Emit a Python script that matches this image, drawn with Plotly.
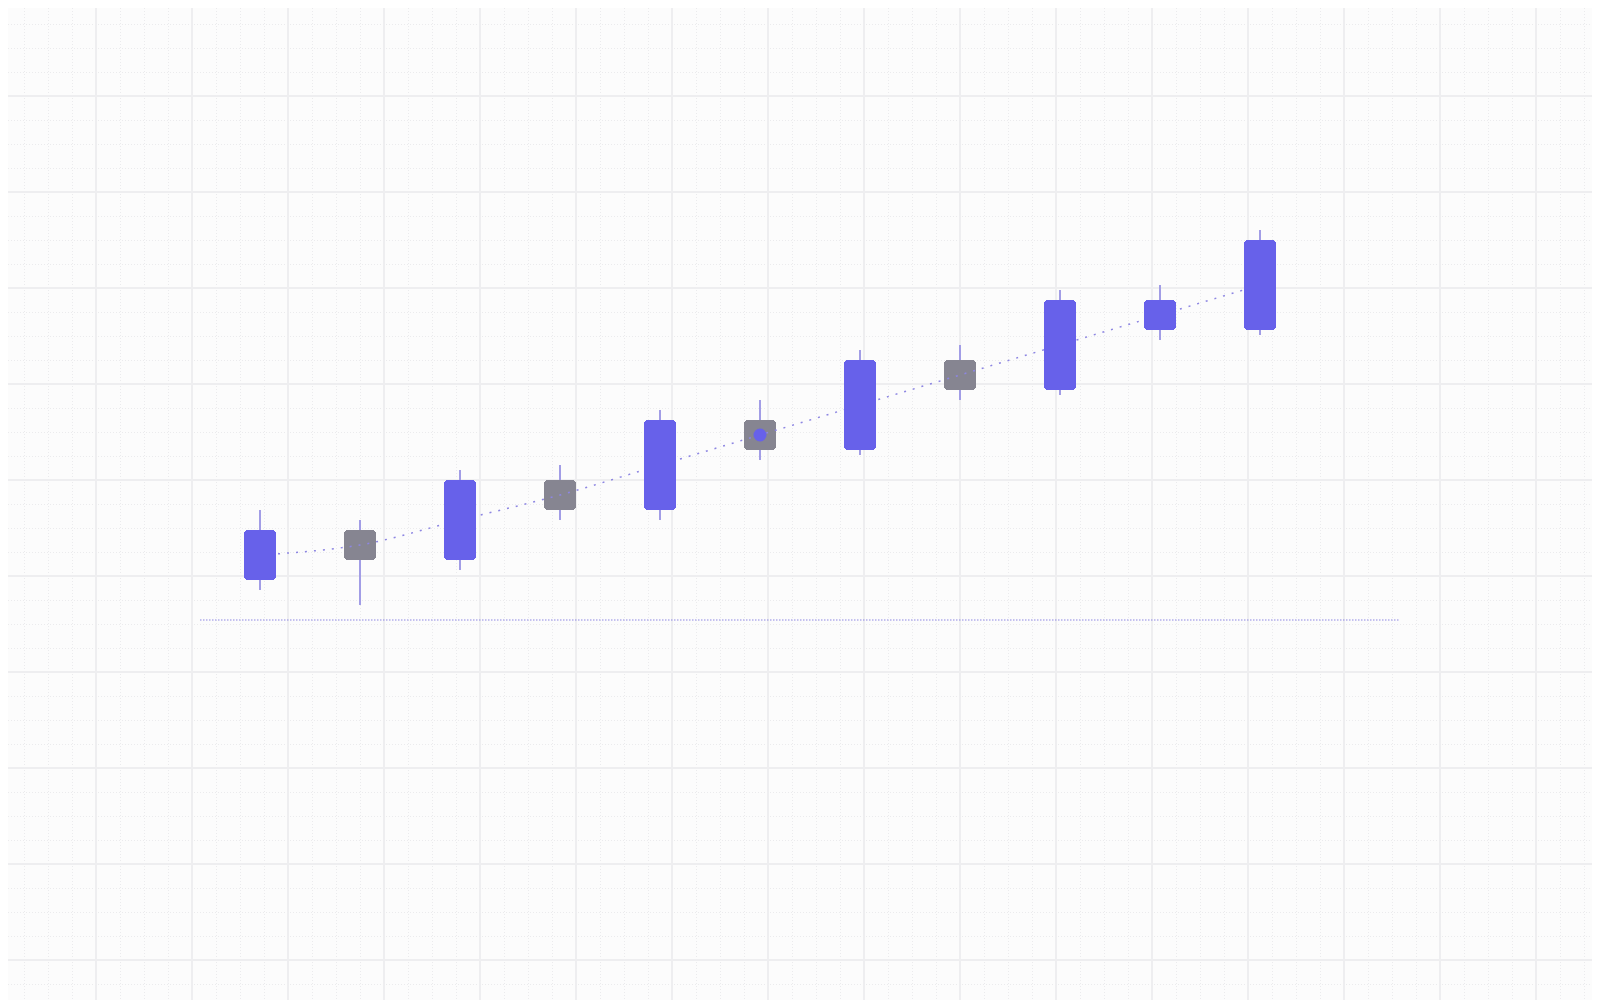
import plotly.graph_objects as go

# 蜡烛图数据（每根蜡烛：开盘、收盘、最高、最低）
candles = list(range(11))
opens = [42, 47, 44, 52, 49, 58, 55, 64, 61, 67, 67]
closes = [47, 44, 52, 49, 58, 55, 64, 61, 70, 70, 76]
highs = [49, 48, 53, 53.5, 59, 60, 65, 65.5, 71, 71.5, 77]
lows = [41, 39.5, 43, 48, 48, 54, 54.5, 60, 60.5, 66, 66.5]

# 趋势线、基准线和高亮点
trend = [44.5, 45.5, 48, 50.5, 53.5, 56.5, 59.5, 62.5, 65.5, 68.5, 71.5]
baseline_x = [-0.6, 11.4]
baseline_y = [38, 38]
highlight = 5

blue = '#6761ea'
gray = '#868591'
soft = '#8d86e2'

fig = go.Figure()

# 影线
fig.add_trace(go.Bar(x=candles,
                     y=[h - l for h, l in zip(highs, lows)],
                     base=lows,
                     width=0.02,
                     marker_color='#a29de6',
                     marker_line_width=0))


def add_bodies(idx, color, xaxis='x', yaxis='y'):
    """蜡烛实体"""
    fig.add_trace(go.Bar(x=[candles[i] for i in idx],
                         y=[abs(closes[i] - opens[i]) for i in idx],
                         base=[min(opens[i], closes[i]) for i in idx],
                         width=0.32,
                         marker_color=color,
                         marker_line_width=0,
                         marker_cornerradius=4,
                         xaxis=xaxis, yaxis=yaxis))


up = [i for i in candles if closes[i] > opens[i]]
down = [i for i in candles if closes[i] <= opens[i]]

add_bodies(down, gray)

# 趋势线（画在灰色实体上面、蓝色实体下面）
fig.add_trace(go.Scatter(x=candles, y=trend, mode='lines',
                         line=dict(color=soft, width=1.5, dash='2px,7px', shape='spline')))

# 上层坐标系：蓝色实体、基准线、高亮点
add_bodies(up, blue, 'x2', 'y2')

fig.add_trace(go.Scatter(x=baseline_x, y=baseline_y, mode='lines',
                         line=dict(color=soft, width=1, dash='1.5px,1.5px'),
                         xaxis='x2', yaxis='y2'))

fig.add_trace(go.Scatter(x=[candles[highlight]], y=[trend[highlight]], mode='markers',
                         marker=dict(color=blue, size=13),
                         xaxis='x2', yaxis='y2'))

# 页面 body 默认有 8px 边距，坐标范围相应平移
x_range = [-2.52, 13.48]
y_range = [-0.8, 99.2]
axis = dict(showticklabels=False, zeroline=False, showline=False, ticks='',
            gridcolor='#eeeef0', gridwidth=2)
hidden = dict(showticklabels=False, zeroline=False, showline=False, ticks='', showgrid=False)
fig.update_layout(width=1600, height=1000,
                  margin=dict(l=0, r=0, t=0, b=0),
                  paper_bgcolor='#fcfcfc',
                  plot_bgcolor='#fcfcfc',
                  showlegend=False,
                  barmode='overlay',
                  bargap=0,
                  xaxis=dict(range=x_range, tick0=-2.6, dtick=0.96,
                             minor=dict(tick0=-2.6, dtick=0.24, showgrid=True, gridcolor='#ebebed',
                                        griddash='1px,2px', gridwidth=1),
                             **axis),
                  yaxis=dict(range=y_range, tick0=4, dtick=9.6,
                             minor=dict(tick0=4, dtick=2.4, showgrid=True, gridcolor='#ebebed',
                                        griddash='1px,2px', gridwidth=1),
                             **axis),
                  xaxis2=dict(range=x_range, overlaying='x', **hidden),
                  yaxis2=dict(range=y_range, overlaying='y', **hidden))

fig.write_html("out.html")
